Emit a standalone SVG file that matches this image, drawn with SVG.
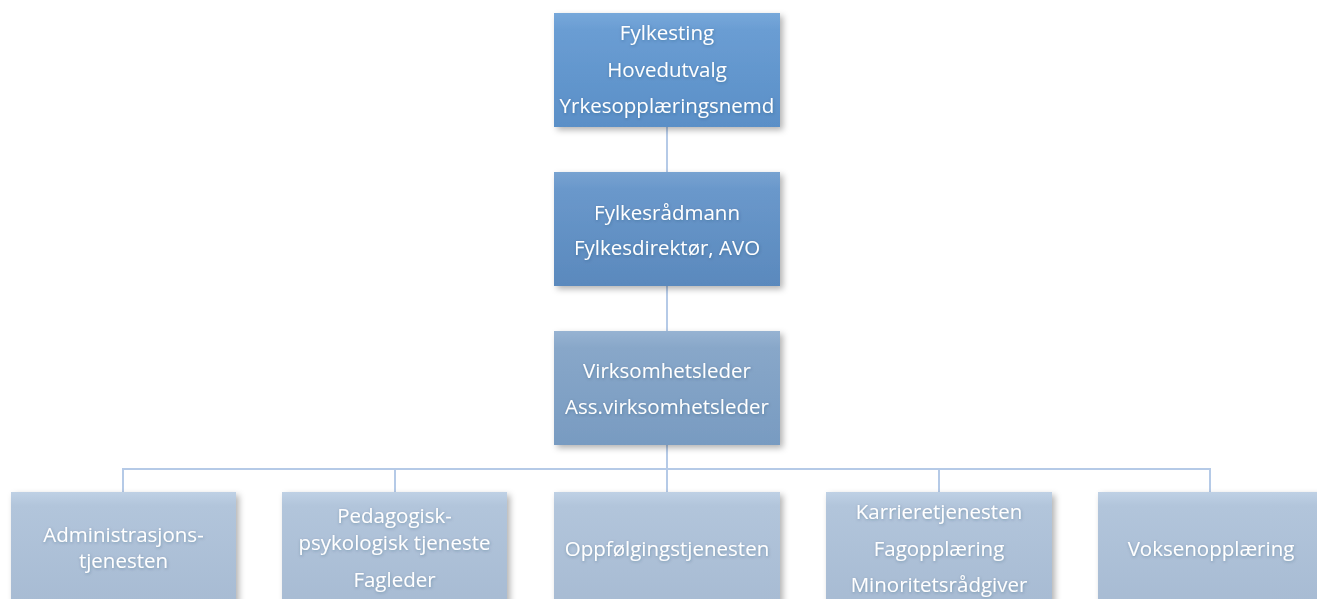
<svg xmlns="http://www.w3.org/2000/svg" width="1317" height="599" viewBox="0 0 1317 599">
  <defs>
    <linearGradient id="g1" x1="0" y1="0" x2="0" y2="1">
      <stop offset="0" stop-color="#77a8da"/>
      <stop offset="0.15" stop-color="#6a9dd3"/>
      <stop offset="1" stop-color="#5a8fc7"/>
    </linearGradient>
    <linearGradient id="g2" x1="0" y1="0" x2="0" y2="1">
      <stop offset="0" stop-color="#78a3d1"/>
      <stop offset="0.15" stop-color="#6a98cb"/>
      <stop offset="1" stop-color="#5a89bd"/>
    </linearGradient>
    <linearGradient id="g3" x1="0" y1="0" x2="0" y2="1">
      <stop offset="0" stop-color="#97b3d2"/>
      <stop offset="0.15" stop-color="#88a7c9"/>
      <stop offset="1" stop-color="#789bc1"/>
    </linearGradient>
    <linearGradient id="g4" x1="0" y1="0" x2="0" y2="1">
      <stop offset="0" stop-color="#bfd1e5"/>
      <stop offset="0.12" stop-color="#b2c5db"/>
      <stop offset="1" stop-color="#a7bbd3"/>
    </linearGradient>
    <filter id="sh" x="-10%" y="-10%" width="125%" height="130%">
      <feDropShadow dx="3" dy="3" stdDeviation="3" flood-color="#000" flood-opacity="0.3"/>
    </filter>
    <filter id="tsh" x="-5%" y="-30%" width="110%" height="160%">
      <feDropShadow dx="0.5" dy="1" stdDeviation="1.5" flood-color="#1f3450" flood-opacity="0.3"/>
    </filter>
  </defs>
  <style>
    .ln { stroke: #b5cae7; stroke-width: 2; fill: none; }
    .t { font-family: "Open Sans", "Liberation Sans", sans-serif; font-size: 20.5px; fill: #ffffff; text-anchor: middle; filter: url(#tsh); }
  </style>
  <rect width="1317" height="599" fill="#ffffff"/>
  <g id="connectors">
    <line class="ln" x1="667" y1="127" x2="667" y2="172"/>
    <line class="ln" x1="667" y1="286" x2="667" y2="331"/>
    <line class="ln" x1="667" y1="445" x2="667" y2="492"/>
    <polyline class="ln" points="123,492 123,469 1210,469 1210,492"/>
    <line class="ln" x1="395" y1="469" x2="395" y2="492"/>
    <line class="ln" x1="939" y1="469" x2="939" y2="492"/>
  </g>
  <g id="fylkesting">
    <rect x="554" y="13" width="226" height="114" fill="url(#g1)" filter="url(#sh)"/>
    <text class="t" x="667" y="40">Fylkesting</text>
    <text class="t" x="667" y="77">Hovedutvalg</text>
    <text class="t" x="667" y="113">Yrkesopplæringsnemd</text>
  </g>
  <g id="fylkesradmann">
    <rect x="554" y="172" width="226" height="114" fill="url(#g2)" filter="url(#sh)"/>
    <text class="t" x="667" y="220">Fylkesrådmann</text>
    <text class="t" x="667" y="255">Fylkesdirektør, AVO</text>
  </g>
  <g id="virksomhetsleder">
    <rect x="554" y="331" width="226" height="114" fill="url(#g3)" filter="url(#sh)"/>
    <text class="t" x="667" y="378">Virksomhetsleder</text>
    <text class="t" x="667" y="414">Ass.virksomhetsleder</text>
  </g>
  <g id="administrasjon">
    <rect x="11" y="492" width="225" height="114" fill="url(#g4)" filter="url(#sh)"/>
    <text class="t" x="123.5" y="542">Administrasjons-</text>
    <text class="t" x="123.5" y="568">tjenesten</text>
  </g>
  <g id="ppt">
    <rect x="282" y="492" width="225" height="114" fill="url(#g4)" filter="url(#sh)"/>
    <text class="t" x="394.5" y="523">Pedagogisk-</text>
    <text class="t" x="394.5" y="550">psykologisk tjeneste</text>
    <text class="t" x="394.5" y="587">Fagleder</text>
  </g>
  <g id="oppfolging">
    <rect x="554" y="492" width="226" height="114" fill="url(#g4)" filter="url(#sh)"/>
    <text class="t" x="667" y="556">Oppfølgingstjenesten</text>
  </g>
  <g id="karriere">
    <rect x="826" y="492" width="226" height="114" fill="url(#g4)" filter="url(#sh)"/>
    <text class="t" x="939" y="519">Karrieretjenesten</text>
    <text class="t" x="939" y="556">Fagopplæring</text>
    <text class="t" x="939" y="592">Minoritetsrådgiver</text>
  </g>
  <g id="voksenopplaring">
    <rect x="1098" y="492" width="226" height="114" fill="url(#g4)" filter="url(#sh)"/>
    <text class="t" x="1211" y="556">Voksenopplæring</text>
  </g>
</svg>
